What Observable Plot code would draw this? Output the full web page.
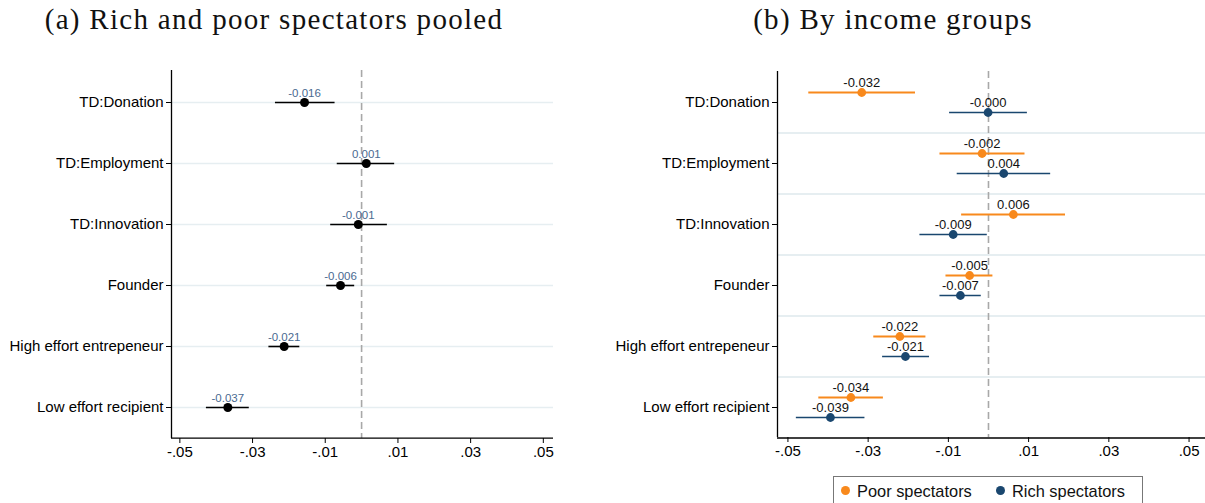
<!DOCTYPE html>
<html>
<head>
<meta charset="utf-8">
<script src="https://cdn.jsdelivr.net/npm/d3@7"></script>
<script src="https://cdn.jsdelivr.net/npm/@observablehq/plot@0.6"></script>
<style>
  html, body { margin: 0; padding: 0; background: #fff; }
  #root { position: relative; width: 1205px; height: 503px; overflow: hidden; background: #fff; }
  .title { position: absolute; top: 5px; font-family: "Liberation Serif", "DejaVu Serif", serif; font-size: 29px; letter-spacing: 1.3px; line-height: 1; color: #111; text-align: center; white-space: nowrap; }
  .panel { position: absolute; top: 45px; }
  #legend { position: absolute; left: 833px; top: 476px; width: 310px; height: 40px; border: 1px solid #777; box-sizing: border-box; font-family: "Liberation Sans", Arial, sans-serif; font-size: 16.4px; color: #111; }
  .lg { position: absolute; top: 5px; white-space: nowrap; }
  .dot { display: inline-block; width: 9px; height: 9px; border-radius: 50%; vertical-align: middle; margin-right: 7px; position: relative; top: -2px; }
</style>
</head>
<body>
<div id="root">
  <div class="title" style="left:0px;width:548px;">(a) Rich and poor spectators pooled</div>
  <div class="title" style="left:593px;width:600px;">(b) By income groups</div>
  <div class="panel" id="left" style="left:0px;"></div>
  <div class="panel" id="right" style="left:590px;"></div>
  <div id="legend"></div>
</div>
<script>
// ---- data ----
const categories = ["TD:Donation", "TD:Employment", "TD:Innovation", "Founder", "High effort entrepeneur", "Low effort recipient"];

const pooledEst = [-0.0157, 0.0013, -0.0009, -0.0058, -0.0213, -0.0368];
const pooledLo  = [-0.0237, -0.0067, -0.0085, -0.0096, -0.0255, -0.0427];
const pooledHi  = [-0.0073, 0.0091, 0.0071, -0.0019, -0.0170, -0.0309];
const pooledLabels = ["-0.016", "0.001", "-0.001", "-0.006", "-0.021", "-0.037"];

const poorEst = [-0.0316, -0.0016, 0.0062, -0.0047, -0.0221, -0.0343];
const poorLo  = [-0.0448, -0.0121, -0.0067, -0.0106, -0.0286, -0.0423];
const poorHi  = [-0.0182, 0.0091, 0.0192, 0.0011, -0.0156, -0.0262];
const poorLabels = ["-0.032", "-0.002", "0.006", "-0.005", "-0.022", "-0.034"];

const richEst = [-0.0001, 0.0038, -0.0088, -0.0070, -0.0207, -0.0394];
const richLo  = [-0.0097, -0.0078, -0.0171, -0.0121, -0.0264, -0.0479];
const richHi  = [0.0097, 0.0155, -0.0003, -0.0018, -0.0147, -0.0308];
const richLabels = ["-0.000", "0.004", "-0.009", "-0.007", "-0.021", "-0.039"];

const xTicks = [-0.05, -0.03, -0.01, 0.01, 0.03, 0.05];
const xTickLabels = ["-.05", "-.03", "-.01", ".01", ".03", ".05"];

const seriesNames = ["Poor spectators", "Rich spectators"];
const seriesColors = ["#f8891c", "#1a476f"];

// ---- styles ----
const fontFamily = "'Liberation Sans', Arial, sans-serif";
const gridColor = "#e6eef1";
const zeroStyle = {stroke: "#a8a8a8", strokeWidth: 1.6, strokeDasharray: "7,4"};

// ---- left panel ----
(function () {
  const W = 590, H = 458, mt = 25, mb = 65, ml = 171, mr = 37;
  const xDomain = [-0.0523, 0.0528];
  const step = (H - mt - mb) / categories.length;
  const rows = categories.map((c, i) => ({cat: c, est: pooledEst[i], lo: pooledLo[i], hi: pooledHi[i], lab: pooledLabels[i]}));
  const chart = Plot.plot({
    width: W, height: H, marginTop: mt, marginBottom: mb, marginLeft: ml, marginRight: mr,
    style: {fontFamily, fontSize: "15px", color: "#000", background: "transparent", overflow: "visible"},
    x: {domain: xDomain},
    y: {domain: categories, type: "point", padding: 0.5},
    marks: [
      Plot.ruleY(categories, {stroke: gridColor, strokeWidth: 1.3}),
      Plot.ruleX([0], zeroStyle),
      Plot.ruleY(rows, {y: "cat", x1: "lo", x2: "hi", stroke: "#000", strokeWidth: 1.6}),
      Plot.dot(rows, {x: "est", y: "cat", r: 4.5, fill: "#000", stroke: "none"}),
      Plot.text(rows, {x: "est", y: "cat", text: "lab", dy: -6, lineAnchor: "bottom", fill: "#4a6a91", fontSize: 11.5}),
      Plot.axisY({tickSize: 5, tickPadding: 3, label: null, fontSize: 15}),
      Plot.axisX({ticks: xTicks, tickFormat: (d, i) => xTickLabels[i], tickSize: 5, tickPadding: 3, label: null, fontSize: 15}),
      Plot.ruleX([xDomain[0]], {stroke: "#000", strokeWidth: 1.3}),
      Plot.ruleY([categories[categories.length - 1]], {dy: step / 2, stroke: "#000", strokeWidth: 1.3})
    ]
  });
  document.getElementById("left").appendChild(chart);
})();

// ---- right panel ----
(function () {
  const W = 615, H = 458, mt = 26, mb = 66, ml = 187, mr = 0;
  const xDomain = [-0.0526, 0.0541];
  const step = (H - mt - mb) / categories.length;
  const off = 10;
  const poor = categories.map((c, i) => ({cat: c, est: poorEst[i], lo: poorLo[i], hi: poorHi[i], lab: poorLabels[i]}));
  const rich = categories.map((c, i) => ({cat: c, est: richEst[i], lo: richLo[i], hi: richHi[i], lab: richLabels[i]}));
  const chart = Plot.plot({
    width: W, height: H, marginTop: mt, marginBottom: mb, marginLeft: ml, marginRight: mr,
    style: {fontFamily, fontSize: "15px", color: "#000", background: "transparent", overflow: "visible"},
    x: {domain: xDomain},
    y: {domain: categories, type: "point", padding: 0.5},
    marks: [
      Plot.ruleY(categories.slice(1), {dy: -step / 2, stroke: gridColor, strokeWidth: 2}),
      Plot.ruleX([0], zeroStyle),
      Plot.ruleY(poor, {y: "cat", x1: "lo", x2: "hi", dy: -off, stroke: seriesColors[0], strokeWidth: 2}),
      Plot.ruleY(rich, {y: "cat", x1: "lo", x2: "hi", dy: off, stroke: seriesColors[1], strokeWidth: 1.6}),
      Plot.dot(poor, {x: "est", y: "cat", dy: -off, r: 4.4, fill: seriesColors[0], stroke: "none"}),
      Plot.dot(rich, {x: "est", y: "cat", dy: off, r: 4.4, fill: seriesColors[1], stroke: "none"}),
      Plot.text(poor, {x: "est", y: "cat", text: "lab", dy: -off - 6, lineAnchor: "bottom", fill: "#111", fontSize: 13}),
      Plot.text(rich, {x: "est", y: "cat", text: "lab", dy: off - 6, lineAnchor: "bottom", fill: "#111", fontSize: 13}),
      Plot.axisY({tickSize: 5, tickPadding: 3, label: null, fontSize: 15}),
      Plot.axisX({ticks: xTicks, tickFormat: (d, i) => xTickLabels[i], tickSize: 5, tickPadding: 3, label: null, fontSize: 15}),
      Plot.ruleX([xDomain[0]], {stroke: "#000", strokeWidth: 1.3}),
      Plot.ruleY([categories[categories.length - 1]], {dy: step / 2, stroke: "#000", strokeWidth: 1.3})
    ]
  });
  document.getElementById("right").appendChild(chart);
})();

// ---- legend ----
(function () {
  const lg = document.getElementById("legend");
  const lefts = [7, 162];
  seriesNames.forEach((name, i) => {
    const item = document.createElement("div");
    item.className = "lg";
    item.style.left = lefts[i] + "px";
    item.innerHTML = `<span class="dot" style="background:${seriesColors[i]}"></span>${name}`;
    lg.appendChild(item);
  });
})();
</script>
</body>
</html>
